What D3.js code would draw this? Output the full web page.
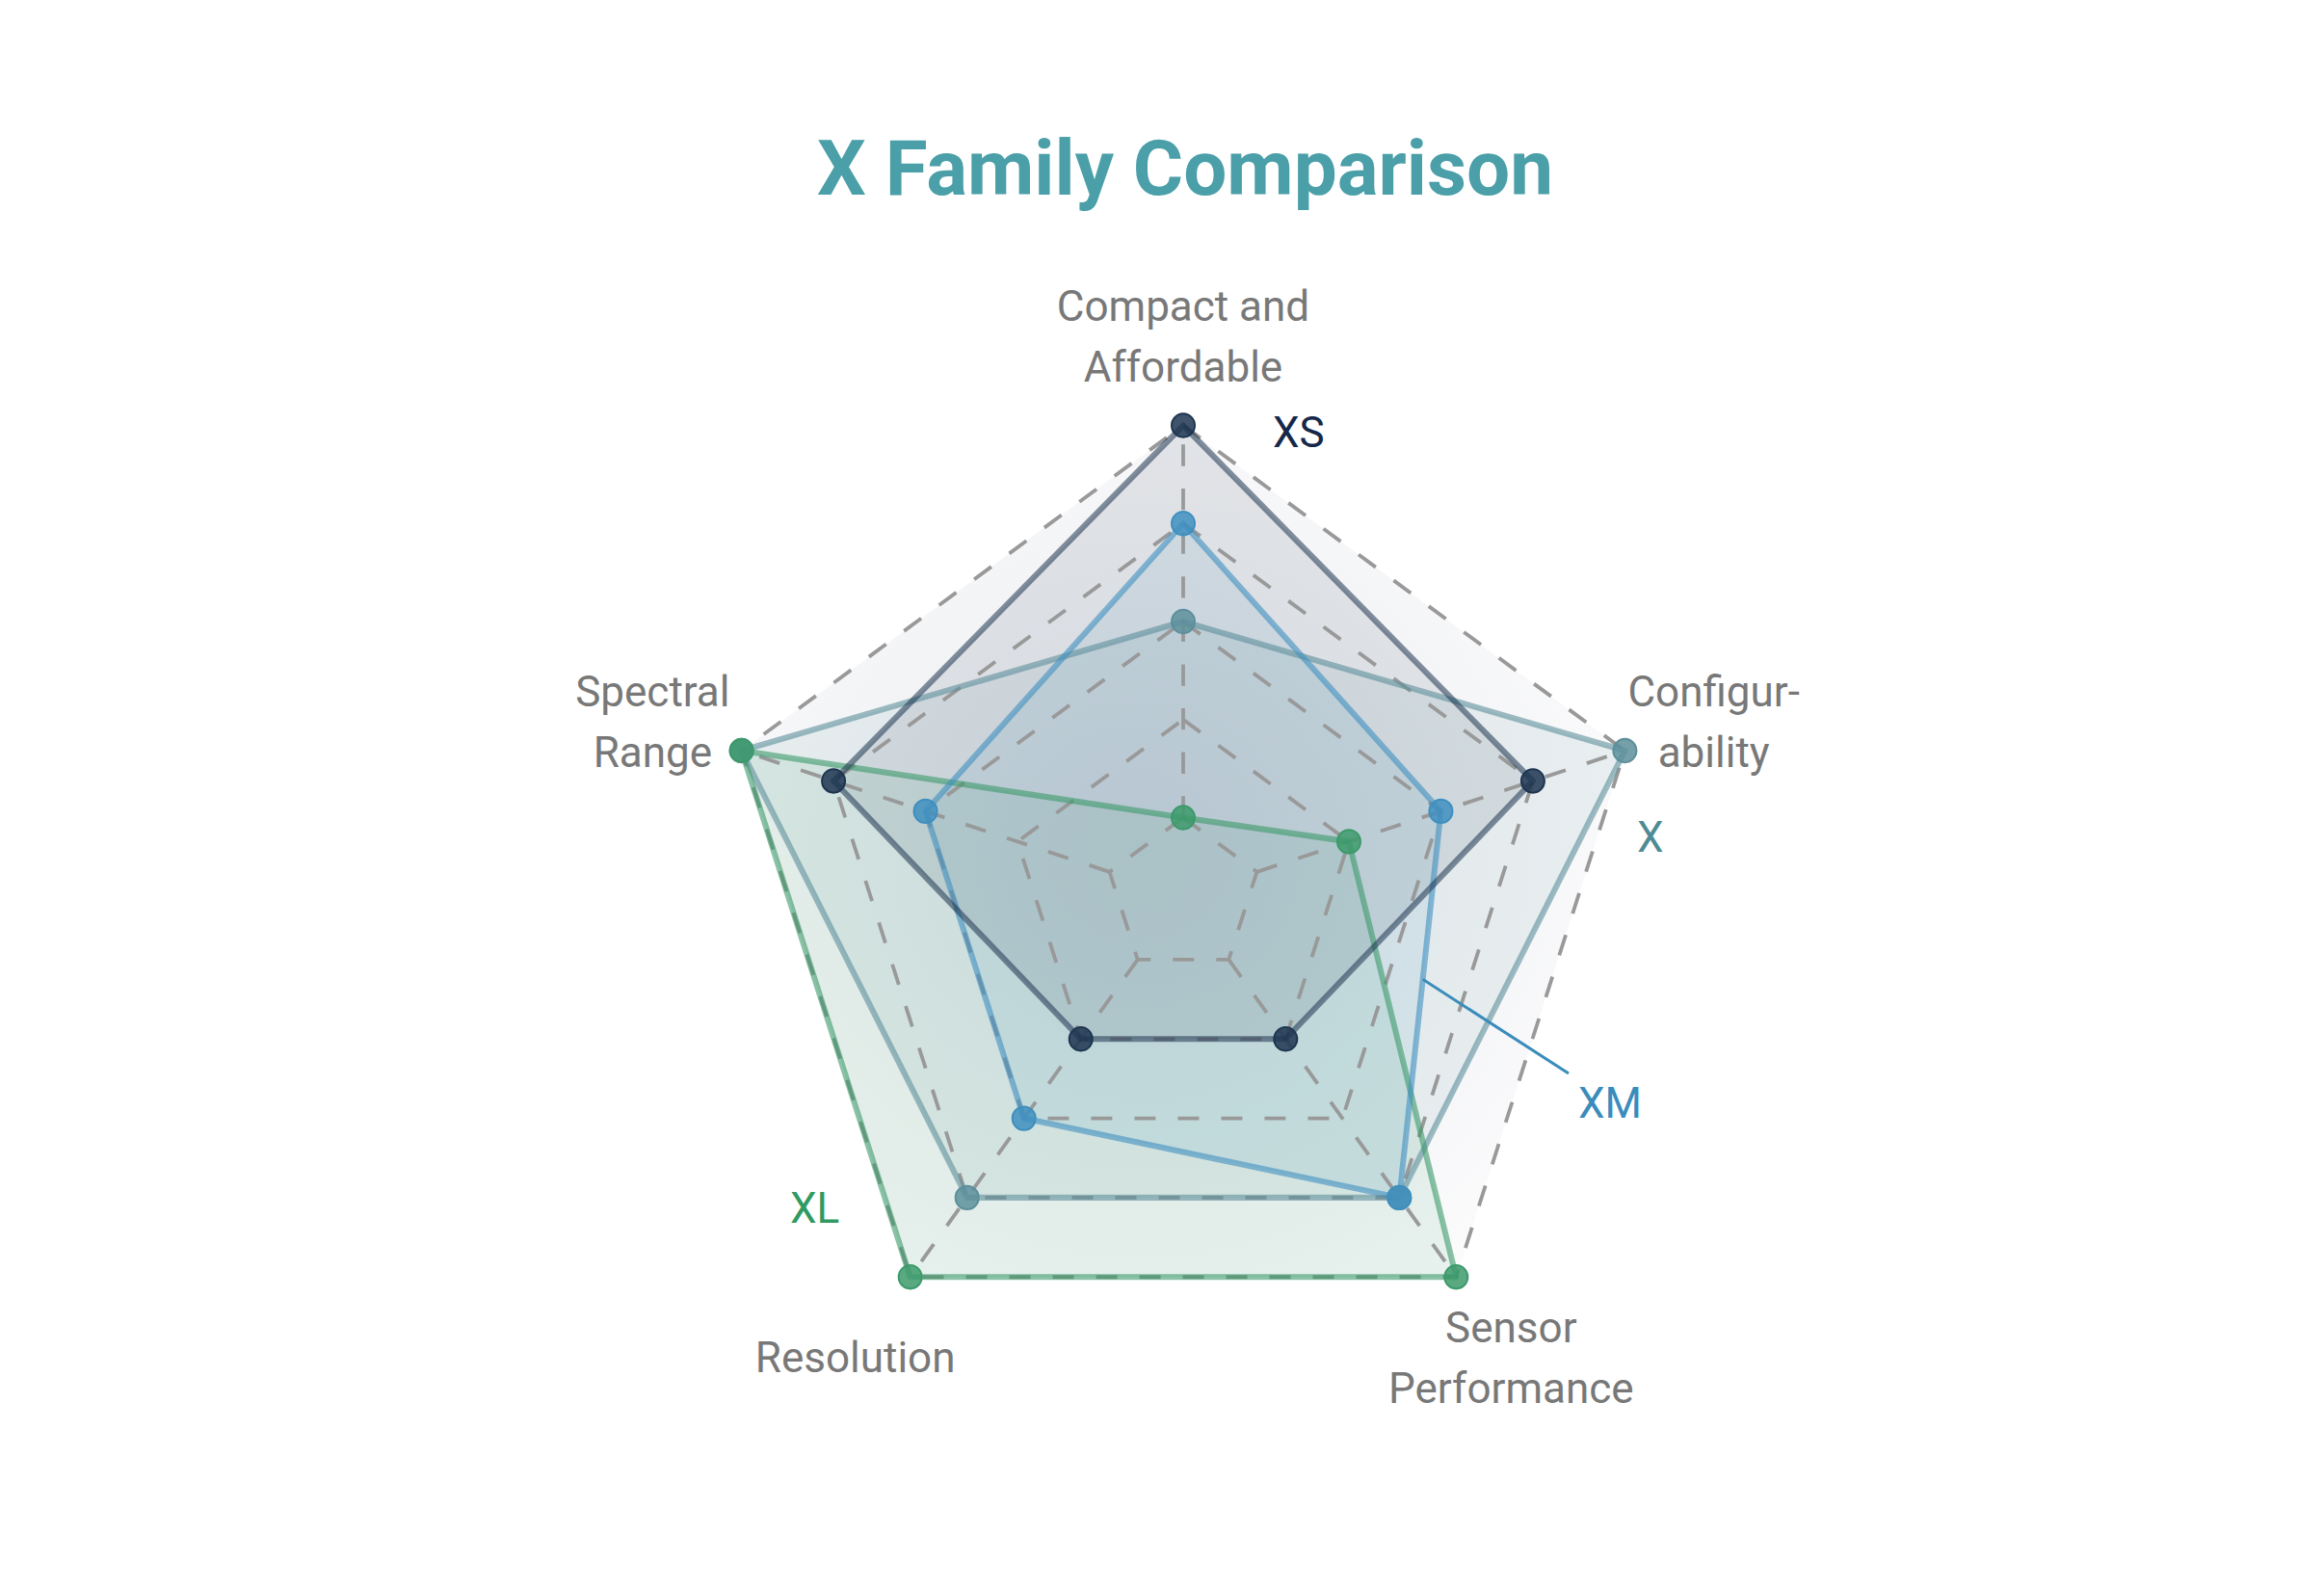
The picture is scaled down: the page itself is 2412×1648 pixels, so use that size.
<!DOCTYPE html>
<html>
<head>
<meta charset="utf-8">
<script src="https://cdn.jsdelivr.net/npm/d3@7"></script>
<style>
  html, body { margin: 0; padding: 0; background: #fff; }
  svg { display: block; font-family: Roboto, "Noto Sans", sans-serif; }
</style>
</head>
<body>
<main></main>
<script>
// chart data
const axes = ["Compact and Affordable", "Configurability", "Sensor Performance", "Resolution", "Spectral Range"];
const axisLines = [["Compact and", "Affordable"], ["Configur-", "ability"], ["Sensor", "Performance"], ["Resolution"], ["Spectral", "Range"]];
const levels = [1, 2, 3, 4, 5];
const seriesNames = ["X", "XL", "XM", "XS"];
const valuesX = [3, 5, 4, 4, 5];
const valuesXL = [1, 2, 5, 5, 5];
const valuesXM = [4, 3, 4, 3, 3];
const valuesXS = [5, 4, 2, 2, 4];

const width = 2412;
const height = 1648;
const cx = 1228;
const cy = 930;
const ky = 1.0135;

const colors = { X: "#5d8f9b", XL: "#3c9a6b", XM: "#3f8fbf", XS: "#1d3550" };
const labelColors = { X: "#4f8b96", XL: "#2f9a62", XM: "#3a8cbc", XS: "#16284a" };
const seriesValues = { X: valuesX, XL: valuesXL, XM: valuesXM, XS: valuesXS };

const svg = d3.select("main").append("svg").attr("width", width).attr("height", height);

const defs = svg.append("defs");
const grad = defs.append("radialGradient").attr("id", "bg").attr("cx", "45%").attr("cy", "50%").attr("r", "60%");
grad.append("stop").attr("offset", "0%").attr("stop-color", "#e9ebee");
grad.append("stop").attr("offset", "100%").attr("stop-color", "#fbfbfc");

svg
  .append("text")
  .attr("x", 1230)
  .attr("y", 202)
  .attr("text-anchor", "middle")
  .style("font-size", "80px")
  .style("font-weight", "700")
  .style("fill", "#4a9fa8")
  .text("X Family Comparison");

const rScale = d3.scaleLinear().domain([0, 5]).range([-20, 482]);
const angle = d3.scalePoint().domain(axes).range([0, 2 * Math.PI * 4 / 5]);

const pt = (i, v) => {
  const a = angle(axes[i]);
  const r = rScale(v);
  return [r * Math.sin(a), -r * Math.cos(a)];
};

const g = svg.append("g").attr("transform", `translate(${cx}, ${cy}) scale(1, ${ky})`);

const ring = (v) => axes.map((d, i) => pt(i, v));
const line = d3.line().curve(d3.curveLinearClosed);

// background of the web
g.append("path").attr("d", line(ring(5))).attr("fill", "url(#bg)");

// series fills
seriesNames.forEach((name) => {
  const vals = seriesValues[name];
  g.append("path")
    .attr("d", line(vals.map((v, i) => pt(i, v))))
    .attr("fill", colors[name])
    .attr("fill-opacity", 0.1)
    .attr("stroke", "none");
});

// grid rings and axis spokes
const grid = g.append("g").attr("class", "grid");
grid
  .selectAll(".ring")
  .data(levels)
  .enter()
  .append("path")
  .attr("class", "ring")
  .attr("d", (v) => line(ring(v)))
  .attr("fill", "none")
  .attr("stroke", "#999")
  .attr("stroke-width", 3.8)
  .attr("stroke-dasharray", "22 23");

grid
  .selectAll(".spoke")
  .data(axes)
  .enter()
  .append("line")
  .attr("class", "spoke")
  .attr("x1", (d, i) => pt(i, levels[0])[0])
  .attr("y1", (d, i) => pt(i, levels[0])[1])
  .attr("x2", (d, i) => pt(i, 5)[0])
  .attr("y2", (d, i) => pt(i, 5)[1])
  .attr("stroke", "#999")
  .attr("stroke-width", 3.8)
  .attr("stroke-dasharray", "22 23");

// series outlines and dots
seriesNames.forEach((name) => {
  const vals = seriesValues[name];
  g.append("path")
    .attr("d", line(vals.map((v, i) => pt(i, v))))
    .attr("fill", "none")
    .attr("stroke", colors[name])
    .attr("stroke-opacity", name === "XS" ? 0.55 : 0.6)
    .attr("stroke-width", 6)
    .attr("stroke-linejoin", "round");
});

seriesNames.forEach((name) => {
  const vals = seriesValues[name];
  g.selectAll(".dot-" + name)
    .data(vals)
    .enter()
    .append("circle")
    .attr("class", "dot-" + name)
    .attr("cx", (v, i) => pt(i, v)[0])
    .attr("cy", (v, i) => pt(i, v)[1])
    .attr("r", 12)
    .attr("fill", colors[name])
    .attr("fill-opacity", 0.85)
    .attr("stroke", colors[name])
    .attr("stroke-width", 2);
});

// axis labels
const labelR = 579;
const lineH = 63;
axes.forEach((d, i) => {
  const a = angle(d);
  const x = cx + labelR * Math.sin(a);
  const y = cy - labelR * Math.cos(a) * ky + 7 * Math.abs(Math.cos(a)) - 1;
  const lines = axisLines[i];
  const top = y - ((lines.length - 1) * lineH) / 2 + 15;
  const t = svg
    .append("text")
    .attr("text-anchor", "middle")
    .style("font-size", "44px")
    .style("fill", "#787878");
  lines.forEach((l, j) => {
    t.append("tspan").attr("x", x).attr("y", top + j * lineH).text(l);
  });
});

// series labels
const seriesLabelPos = { XS: [1321, 464], X: [1699, 884], XM: [1638, 1160], XL: [820, 1269] };
Object.keys(seriesLabelPos).forEach((name) => {
  svg
    .append("text")
    .attr("x", seriesLabelPos[name][0])
    .attr("y", seriesLabelPos[name][1])
    .style("font-size", "44px")
    .style("fill", labelColors[name])
    .text(name);
});

// leader for XM, from the middle of its Configurability-Sensor edge
const p1 = pt(1, valuesXM[1]);
const p2 = pt(2, valuesXM[2]);
const t0 = 0.435;
const lx = cx + p1[0] + (p2[0] - p1[0]) * t0;
const ly = cy + (p1[1] + (p2[1] - p1[1]) * t0) * ky;
svg
  .append("line")
  .attr("x1", lx)
  .attr("y1", ly)
  .attr("x2", 1628)
  .attr("y2", 1114)
  .attr("stroke", "#3a8cbc")
  .attr("stroke-width", 3);
</script>
</body>
</html>
